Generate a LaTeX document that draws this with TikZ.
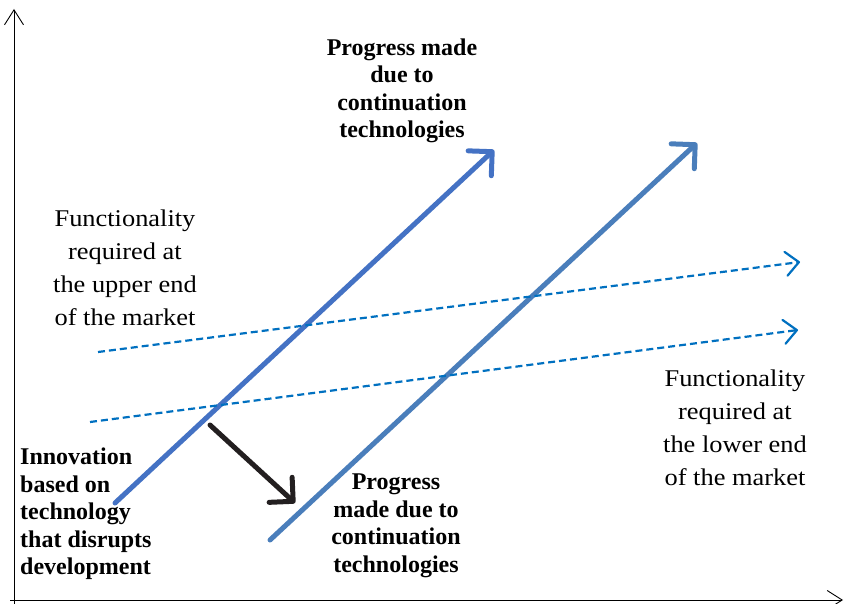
\documentclass[tikz,border=0pt]{standalone}
\usepackage{fontspec}
\setmainfont{Liberation Serif}
\newfontfamily\funcfont[FakeStretch=1.1]{Liberation Serif}
\usetikzlibrary{arrows.meta}
\definecolor{bluea}{HTML}{4472C4}
\definecolor{blueb}{HTML}{4A7EBB}
\definecolor{dashblue}{HTML}{0070C0}
\definecolor{darkk}{HTML}{231F20}
\begin{document}
\begin{tikzpicture}[x=1pt,y=-1pt,
  axis/.style={line width=0.9pt,black,-{Straight Barb[length=15pt,width=19pt,line width=0.9pt]}},
  bigarrow/.style={line width=5pt,line cap=round,-{Straight Barb[length=17pt,width=34pt,line width=5pt,round]}},
  dasharrow/.style={line width=2.2pt,dashblue,dash pattern=on 7pt off 4pt,-{Straight Barb[length=13pt,width=24pt,line width=2.2pt,round]}},
  boldlbl/.style={font=\fontsize{24}{27.5}\selectfont\bfseries,align=center,inner sep=0pt},
  normlbl/.style={font=\funcfont\fontsize{24}{33}\selectfont,align=center,inner sep=0pt}]
\useasboundingbox (0,0) rectangle (846,604);
% axes
\coordinate (ytop) at (14,9);
\coordinate (xend) at (843,600);
\coordinate (ybot) at (14,604);
\coordinate (xbeg) at (10,600);
\draw[axis] (ybot) -- (ytop);
\draw[axis] (xbeg) -- (xend);
% blue arrows
\coordinate (a1s) at (115,503);
\coordinate (a1e) at (494,150);
\coordinate (a2s) at (270,540);
\coordinate (a2e) at (697,143);
\draw[bigarrow,bluea] (a1s) -- (a1e);
\draw[bigarrow,blueb] (a2s) -- (a2e);
% dashed
\coordinate (d1s) at (98,352);
\coordinate (d1e) at (800,262);
\coordinate (d2s) at (90,422);
\coordinate (d2e) at (798,330);
\draw[dasharrow] (d1s) -- (d1e);
\draw[dasharrow] (d2s) -- (d2e);
% black arrow
\coordinate (bs) at (210,425);
\coordinate (be) at (295,503);
\draw[bigarrow,darkk] (bs) -- (be);
% labels
\node[boldlbl] (pt) at (402,91) {Progress made\\due to\\continuation\\technologies};
\node[boldlbl] (pb) at (396,526) {Progress\\made due to\\continuation\\technologies};
\node[boldlbl,align=left,anchor=west] (inn) at (20,514) {Innovation\\based on\\technology\\that disrupts\\development};
\node[normlbl] (fu) at (125,268) {Functionality\\required at\\the upper end\\of the market};
\node[normlbl] (fl) at (735,428) {Functionality\\required at\\the lower end\\of the market};
\end{tikzpicture}
\end{document}
